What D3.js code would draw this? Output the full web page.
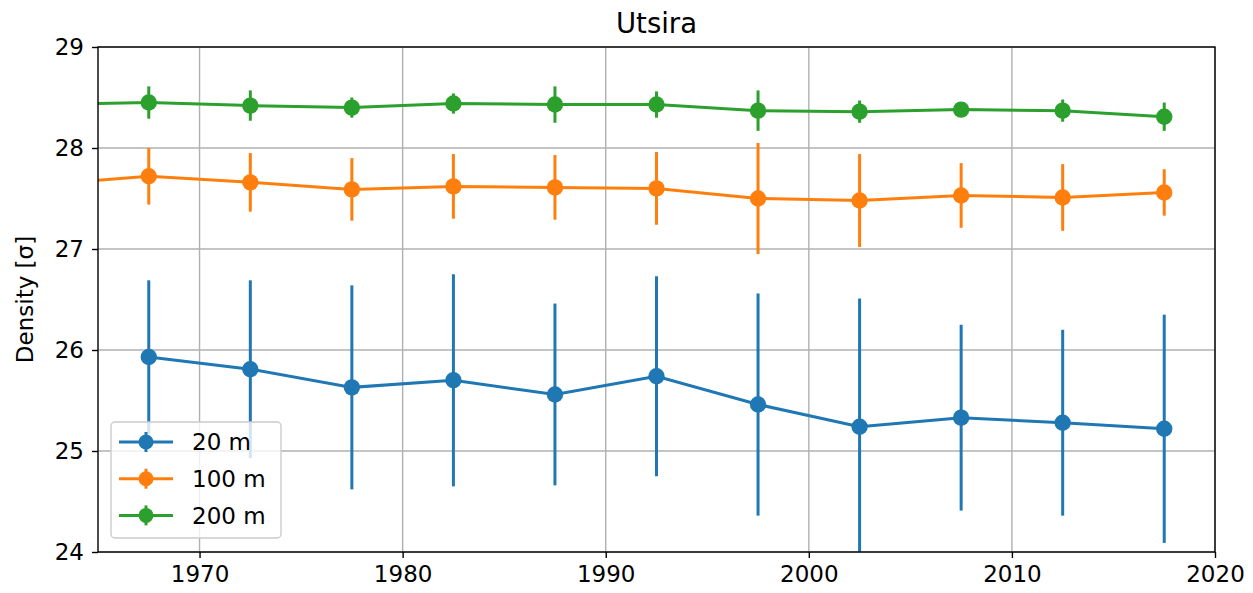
<!DOCTYPE html>
<html>
<head>
<meta charset="utf-8">
<script src="https://cdn.jsdelivr.net/npm/d3@7"></script>
<style>
  body { margin: 0; background: #fff; }
  text { font-family: "DejaVu Sans", sans-serif; fill: #000; }
</style>
</head>
<body>
<div id="chart"></div>
<script>
// mid-point years of the 5-year bins
const years = [1962.5, 1967.5, 1972.5, 1977.5, 1982.5, 1987.5, 1992.5, 1997.5, 2002.5, 2007.5, 2012.5, 2017.5];

const dens20 = [null, 25.93, 25.81, 25.63, 25.70, 25.56, 25.74, 25.46, 25.24, 25.33, 25.28, 25.22];
const err20 = [null, 0.76, 0.88, 1.01, 1.05, 0.90, 0.99, 1.10, 1.27, 0.92, 0.92, 1.13];
const dens100 = [27.64, 27.72, 27.66, 27.59, 27.62, 27.61, 27.60, 27.50, 27.48, 27.53, 27.51, 27.56];
const err100 = [0.30, 0.28, 0.29, 0.31, 0.32, 0.32, 0.36, 0.55, 0.46, 0.32, 0.33, 0.23];
const dens200 = [28.43, 28.45, 28.42, 28.40, 28.44, 28.43, 28.43, 28.37, 28.36, 28.38, 28.37, 28.31];
const err200 = [0.10, 0.16, 0.15, 0.10, 0.10, 0.18, 0.13, 0.20, 0.11, 0.05, 0.11, 0.14];

const seriesNames = ["20 m", "100 m", "200 m"];
const xTicks = [1970, 1980, 1990, 2000, 2010, 2020];
const yTicks = [24, 25, 26, 27, 28, 29];

const colors = ["#1f77b4", "#ff7f0e", "#2ca02c"];
const series = [
  {name: seriesNames[0], vals: dens20, errs: err20},
  {name: seriesNames[1], vals: dens100, errs: err100},
  {name: seriesNames[2], vals: dens200, errs: err200}
];

const width = 1253, height = 593;
const margin = {top: 47, right: 38, bottom: 41, left: 98};
const fs = 23;

const x = d3.scaleLinear().domain([1965, 2020]).range([margin.left, width - margin.right]);
const y = d3.scaleLinear().domain([24, 29]).range([height - margin.bottom, margin.top]);

const svg = d3.select("#chart").append("svg")
  .attr("width", width)
  .attr("height", height);

svg.append("defs").append("clipPath").attr("id", "clip")
  .append("rect")
    .attr("x", margin.left).attr("y", margin.top)
    .attr("width", width - margin.left - margin.right)
    .attr("height", height - margin.top - margin.bottom);

// grid
const grid = svg.append("g").attr("stroke", "#b0b0b0").attr("stroke-width", 1.4);
grid.selectAll(".gx").data(xTicks).join("line")
  .attr("x1", d => x(d)).attr("x2", d => x(d))
  .attr("y1", margin.top).attr("y2", height - margin.bottom);
grid.selectAll(".gy").data(yTicks).join("line")
  .attr("y1", d => y(d)).attr("y2", d => y(d))
  .attr("x1", margin.left).attr("x2", width - margin.right);

// data
const plot = svg.append("g").attr("clip-path", "url(#clip)");

series.forEach((s, i) => {
  const pts = years.map((yr, j) => ({yr, v: s.vals[j], e: s.errs[j]})).filter(d => d.v != null);
  const g = plot.append("g");
  g.append("path")
    .datum(pts)
    .attr("fill", "none")
    .attr("stroke", colors[i])
    .attr("stroke-width", 3)
    .attr("d", d3.line().x(d => x(d.yr)).y(d => y(d.v)));
  g.selectAll("line.err").data(pts).join("line")
    .attr("class", "err")
    .attr("stroke", colors[i])
    .attr("stroke-width", 3)
    .attr("x1", d => x(d.yr)).attr("x2", d => x(d.yr))
    .attr("y1", d => y(d.v - d.e)).attr("y2", d => y(d.v + d.e));
  g.selectAll("circle").data(pts).join("circle")
    .attr("fill", colors[i])
    .attr("cx", d => x(d.yr)).attr("cy", d => y(d.v))
    .attr("r", 8.2);
});

// axes
const xAxis = svg.append("g")
  .attr("transform", `translate(0,${height - margin.bottom})`)
  .call(d3.axisBottom(x).tickValues(xTicks).tickFormat(d3.format("d")).tickSize(6).tickPadding(8));
const yAxis = svg.append("g")
  .attr("transform", `translate(${margin.left},0)`)
  .call(d3.axisLeft(y).tickValues(yTicks).tickFormat(d3.format("d")).tickSize(6).tickPadding(8));
[xAxis, yAxis].forEach(a => {
  a.select(".domain").remove();
  a.selectAll(".tick line").attr("stroke", "#000").attr("stroke-width", 1.4);
  a.selectAll(".tick text").style("font-size", fs + "px").attr("fill", "#000");
});

// frame
svg.append("rect")
  .attr("x", margin.left).attr("y", margin.top)
  .attr("width", width - margin.left - margin.right)
  .attr("height", height - margin.top - margin.bottom)
  .attr("fill", "none").attr("stroke", "#000").attr("stroke-width", 1.4);

// title
svg.append("text")
  .attr("x", (margin.left + width - margin.right) / 2)
  .attr("y", 33)
  .attr("text-anchor", "middle")
  .style("font-size", "27.5px")
  .text("Utsira");

// y label
svg.append("text")
  .attr("transform", `translate(33,${(margin.top + height - margin.bottom) / 2}) rotate(-90)`)
  .attr("text-anchor", "middle")
  .style("font-size", fs + "px")
  .text("Density [σ]");

// legend
const lg = svg.append("g").attr("transform", "translate(111,422)");
lg.append("rect")
  .attr("width", 170).attr("height", 116)
  .attr("rx", 4)
  .attr("fill", "#fff").attr("fill-opacity", 0.8)
  .attr("stroke", "#cccccc").attr("stroke-width", 1.4);
series.forEach((s, i) => {
  const row = lg.append("g").attr("transform", `translate(0,${20 + i * 36.7})`);
  row.append("line").attr("x1", 8).attr("x2", 62).attr("y1", 0).attr("y2", 0)
    .attr("stroke", colors[i]).attr("stroke-width", 3);
  row.append("line").attr("x1", 35).attr("x2", 35).attr("y1", -10).attr("y2", 10)
    .attr("stroke", colors[i]).attr("stroke-width", 3);
  row.append("circle").attr("cx", 35).attr("cy", 0).attr("r", 7.5).attr("fill", colors[i]);
  row.append("text").attr("x", 81).attr("y", 0).attr("dy", "0.36em")
    .style("font-size", fs + "px").text(s.name);
});
</script>
</body>
</html>
